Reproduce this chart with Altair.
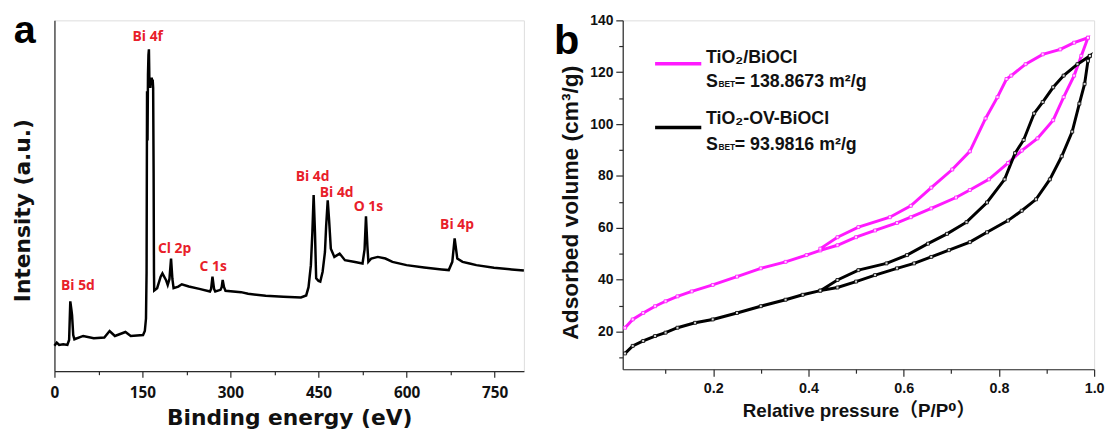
import altair as alt
import pandas as pd

# ---------------- panel a : XPS survey spectrum ----------------
xps_ev = [0, 4, 8, 15, 22, 25, 27, 29, 30, 32, 34, 49, 67, 85, 94, 103, 121, 130, 151, 154,
          156, 157, 157.8, 158.6, 159.4, 160.2, 161, 161.8, 162.6, 163.4, 164.2, 165, 165.8,
          166.6, 167.4, 168.2, 169, 169.6, 170,
          175, 181, 184, 190, 193, 196, 198.7, 201, 203, 211, 217, 229, 247, 265, 267, 269.3,
          272, 274, 283, 285, 286.7, 289, 291.5, 318, 330, 360, 390, 420, 429, 433, 437, 439.5,
          441.7, 444, 446, 450, 453, 457, 461, 463, 465.7, 468, 471, 477, 486, 495, 510, 525,
          528.5, 530.9, 533.3, 535, 540, 551, 564, 576, 600, 630, 660, 672, 678, 682, 686.5,
          695.5, 707.5, 719, 749, 779, 800]
xps_int = [77, 87, 80, 82, 80, 95, 212, 185, 170, 110, 97, 107, 100, 102, 122, 107, 119, 107, 110, 122,
           160, 300, 850, 700, 900, 960, 977, 880, 890, 860, 890, 880, 891,
           870, 885, 860, 600, 300, 245,
           252, 287, 297, 277, 262, 280, 342, 280, 252, 257, 264, 257, 250, 242, 250, 287,
           250, 242, 247, 255, 277, 255, 244, 240, 235, 229, 226, 224, 230, 255, 322, 420,
           535, 420, 282, 274, 272, 302, 362, 440, 519, 460, 372, 347, 357, 337, 332, 327,
           370, 470, 380, 332, 342, 347, 342, 332, 322, 315, 309, 307, 332, 403, 342,
           332, 327, 322, 314, 309, 306]

peak_labels = ["Bi 5d", "Bi 4f", "Cl 2p", "C 1s", "Bi 4d", "Bi 4d", "O 1s", "Bi 4p"]
peak_label_ev = [40, 159, 204.7, 270.5, 440, 481, 535, 686]
peak_label_int = [257, 1014, 372, 317, 588, 540, 499, 443]

ev_major = [0, 150, 300, 450, 600, 750]
ev_minor = [75, 225, 375, 525, 675]

# ---------------- panel b : N2 isotherms ----------------
mag_ads_p = [0.015, 0.031, 0.053, 0.078, 0.10, 0.125, 0.155, 0.199, 0.25, 0.30, 0.352, 0.396, 0.425,
             0.461, 0.50, 0.54, 0.586, 0.615, 0.658, 0.71, 0.739, 0.779, 0.819, 0.848, 0.881, 0.914,
             0.936, 0.958, 0.973, 0.987]
mag_ads_v = [21.5, 24.7, 27.2, 29.8, 31.7, 33.6, 35.5, 38.0, 41.2, 44.4, 46.9, 49.5, 51.3,
             53.3, 56.4, 59.0, 61.9, 64.1, 67.5, 71.7, 74.6, 78.7, 85.0, 89.8, 94.5, 101.5,
             110.4, 118.7, 126.3, 133.3]
mag_des_p = [0.987, 0.958, 0.929, 0.892, 0.856, 0.826, 0.816, 0.797, 0.772, 0.739, 0.702, 0.658,
             0.615, 0.571, 0.505, 0.461, 0.425]
mag_des_v = [133.3, 131.4, 128.8, 126.9, 123.1, 118.7, 117.4, 110.4, 102.2, 89.5, 82.5, 75.5,
             68.5, 64.1, 60.3, 56.4, 52.0]

blk_ads_p = [0.015, 0.031, 0.053, 0.078, 0.10, 0.125, 0.162, 0.199, 0.25, 0.30, 0.352, 0.388, 0.425,
             0.461, 0.50, 0.54, 0.586, 0.622, 0.658, 0.695, 0.739, 0.775, 0.819, 0.848, 0.878, 0.907,
             0.932, 0.954, 0.969, 0.98, 0.987, 0.991]
blk_ads_v = [11.6, 14.5, 16.4, 18.3, 19.6, 21.5, 23.4, 24.7, 27.2, 29.8, 32.3, 34.2, 35.8,
             37.0, 39.3, 41.8, 44.4, 46.3, 48.8, 51.4, 54.5, 58.3, 62.8, 66.6, 71.0, 78.7,
             87.6, 97.1, 107.9, 115.5, 124.4, 126.3]
blk_des_p = [0.991, 0.965, 0.936, 0.914, 0.892, 0.874, 0.852, 0.834, 0.812, 0.775, 0.732, 0.691,
             0.651, 0.607, 0.564, 0.505, 0.461, 0.425]
blk_des_v = [126.3, 123.1, 118.7, 114.2, 108.5, 104.1, 93.9, 88.8, 78.7, 69.8, 62.2, 57.7,
             53.9, 49.5, 46.3, 43.7, 39.9, 35.8]

sample_names = ["TiO₂/BiOCl", "TiO₂-OV-BiOCl"]
sample_sbet = ["= 138.8673 m²/g", "= 93.9816 m²/g"]

p_major = [0.2, 0.4, 0.6, 0.8, 1.0]
p_minor = [0.1, 0.3, 0.5, 0.7, 0.9]
v_major = [20, 40, 60, 80, 100, 120, 140]
v_minor = [10, 30, 50, 70, 90, 110, 130]

# ---------------- styling ----------------
RED = "#e8202a"
MAG = "#ff1aff"
BLK = "#000000"
AX = "#2a2a2a"
F_TITLE_A = "DejaVu Sans"
F_A = "Open Sans"
F_B = "Liberation Sans, Noto Sans CJK SC, DejaVu Sans"


def minor_axis(vals, orient, size):
    return alt.Axis(values=vals, orient=orient, tickSize=size, tickColor=AX, tickWidth=1.2,
                    labels=False, domain=False, grid=False, title=None)


# ---------------- panel a ----------------
df_a = pd.DataFrame({"ev": xps_ev, "inten": xps_int})
df_a_lab = pd.DataFrame({"ev": peak_label_ev, "inten": peak_label_int, "lab": peak_labels})

sx_a = alt.Scale(domain=[0, 800], nice=False, zero=False)
sy_a = alt.Scale(domain=[0, 1065], nice=False, zero=False)

xa = alt.X("ev:Q", scale=sx_a,
           axis=alt.Axis(values=ev_major, format="d", grid=False, orient="bottom",
                         tickSize=6, tickColor=AX, tickWidth=1.2, domainColor=AX, domainWidth=1.2,
                         labelFont=F_A, labelFontSize=15.5, labelFontWeight="bold", labelColor="#111",
                         labelPadding=9, labelFlush=False, labelOverlap=False,
                         title="Binding energy (eV)", titleFont=F_TITLE_A, titleFontSize=22,
                         titleFontWeight="bold", titleColor="#111",
                         titleBaseline="alphabetic", titleY=54))
ya = alt.Y("inten:Q", scale=sy_a,
           axis=alt.Axis(labels=False, ticks=False, grid=False, domainColor=AX, domainWidth=1.2,
                         orient="left",
                         title="Intensity (a.u.)", titleFont=F_TITLE_A, titleFontSize=22,
                         titleFontWeight="bold", titleColor="#111", titlePadding=20, titleY=192))

line_a = alt.Chart(df_a).mark_line(color=BLK, strokeWidth=2.5).encode(x=xa, y=ya)
lab_a = alt.Chart(df_a_lab).mark_text(color=RED, font=F_A, fontSize=14, fontWeight="bold",
                                      align="center", baseline="middle").encode(
    x="ev:Q", y="inten:Q", text="lab:N")
tag_a = alt.Chart(pd.DataFrame({"t": ["a"]})).mark_text(
    font=F_B, fontSize=40, fontWeight="bold", align="center", baseline="alphabetic", color="#000").encode(
    text="t:N", x=alt.value(-30), y=alt.value(23))
main_a = alt.layer(line_a, lab_a, tag_a)

minor_a = alt.Chart(df_a).mark_line(opacity=0).encode(
    x=alt.X("ev:Q", scale=sx_a, axis=minor_axis(ev_minor, "bottom", 3.5)),
    y=alt.Y("inten:Q", scale=sy_a, axis=None))

panel_a = alt.layer(main_a, minor_a).resolve_axis(x="independent", y="independent").properties(
    width=475, height=355)

# ---------------- panel b ----------------
rows = []
for name, ap, av, dp, dv in [
        (sample_names[0], mag_ads_p, mag_ads_v, mag_des_p, mag_des_v),
        (sample_names[1], blk_ads_p, blk_ads_v, blk_des_p, blk_des_v)]:
    k = 0
    for p, v in zip(ap, av):
        rows.append({"sample": name, "p": p, "v": v, "order": k}); k += 1
    for p, v in zip(dp, dv):
        rows.append({"sample": name, "p": p, "v": v, "order": k}); k += 1
df_b = pd.DataFrame(rows)

sx_b = alt.Scale(domain=[0.01, 1.0], nice=False, zero=False)
sy_b = alt.Scale(domain=[5.5, 140], nice=False, zero=False)

xb = alt.X("p:Q", scale=sx_b,
           axis=alt.Axis(values=p_major, format=".1f", grid=False, orient="bottom",
                         tickSize=7, tickColor=AX, tickWidth=1.2, domainColor=AX, domainWidth=1.2,
                         labelFont=F_B, labelFontSize=14.5, labelFontWeight="bold", labelColor="#111",
                         labelPadding=6, labelFlush=False, labelOverlap=False,
                         title="Relative pressure（P/P⁰）", titleFont=F_B, titleFontSize=19,
                         titleFontWeight="bold", titleColor="#111",
                         titleBaseline="alphabetic", titleY=48))
yb = alt.Y("v:Q", scale=sy_b,
           axis=alt.Axis(values=v_major, format="d", grid=False, orient="left",
                         tickSize=7, tickColor=AX, tickWidth=1.2, domainColor=AX, domainWidth=1.2,
                         labelFont=F_B, labelFontSize=14, labelFontWeight="bold", labelColor="#111",
                         labelPadding=3, labelOverlap=False,
                         title="Adsorbed volume (cm³/g)", titleFont=F_B, titleFontSize=23,
                         titleFontWeight="bold", titleColor="#111", titlePadding=7, titleY=184))

cscale = alt.Scale(domain=sample_names, range=[MAG, BLK])
line_b = alt.Chart(df_b).mark_line(strokeWidth=3).encode(
    x=xb, y=yb, order="order:Q",
    color=alt.Color("sample:N", scale=cscale, legend=None))
pts_b = alt.Chart(df_b).mark_square(size=9, fill="white", strokeWidth=0.8, fillOpacity=0.85).encode(
    x="p:Q", y="v:Q", stroke=alt.Stroke("sample:N", scale=cscale, legend=None))

# legend (anchors in data units)
leg_line_x = [0.078, 0.175]
leg_text_x = 0.185
leg_line_y = [123.3, 98.7]
leg_name_y = [123.7, 100.2]
leg_sbet_y = [114.2, 90.0]
df_leg = pd.DataFrame({"sample": sample_names, "x1": [leg_line_x[0]] * 2, "x2": [leg_line_x[1]] * 2,
                       "y": leg_line_y, "ny": leg_name_y, "sy": leg_sbet_y,
                       "tx": [leg_text_x] * 2, "sbet": sample_sbet,
                       "s": ["S", "S"], "bet": ["BET", "BET"]})
leg_lines = alt.Chart(df_leg).mark_rule(strokeWidth=3.5).encode(
    x="x1:Q", x2="x2:Q", y="y:Q", color=alt.Color("sample:N", scale=cscale, legend=None))
txt_kw = dict(font=F_B, fontWeight="bold", align="left", baseline="alphabetic", color="#111")
leg_names = alt.Chart(df_leg).mark_text(fontSize=18, **txt_kw).encode(x="tx:Q", y="ny:Q", text="sample:N")
leg_s = alt.Chart(df_leg).mark_text(fontSize=18, **txt_kw).encode(x="tx:Q", y="sy:Q", text="s:N")
leg_bet = alt.Chart(df_leg).mark_text(fontSize=8.5, dx=12.5, **txt_kw).encode(x="tx:Q", y="sy:Q", text="bet:N")
leg_val = alt.Chart(df_leg).mark_text(fontSize=18, dx=29, **txt_kw).encode(x="tx:Q", y="sy:Q", text="sbet:N")

tag_b = alt.Chart(pd.DataFrame({"t": ["b"]})).mark_text(
    font=F_B, fontSize=42, fontWeight="bold", align="center", baseline="alphabetic", color="#000").encode(
    text="t:N", x=alt.value(-56.7), y=alt.value(34.3))

main_b = alt.layer(line_b, pts_b, leg_lines, leg_names, leg_s, leg_bet, leg_val, tag_b)
minor_b = alt.Chart(df_b).mark_line(opacity=0).encode(
    x=alt.X("p:Q", scale=sx_b, axis=minor_axis(p_minor, "bottom", 4)),
    y=alt.Y("v:Q", scale=sy_b, axis=minor_axis(v_minor, "left", 4)),
    detail="sample:N")

panel_b = alt.layer(main_b, minor_b).resolve_axis(x="independent", y="independent").properties(
    width=477, height=353)

chart = alt.hconcat(panel_a, panel_b, spacing=23).properties(
    padding={"left": 3, "top": 0, "right": 0, "bottom": 0}
).configure_view(stroke=AX, strokeWidth=1.2).configure(background="white")

chart.save("out.html", embed_options={"renderer": "svg", "actions": False})
